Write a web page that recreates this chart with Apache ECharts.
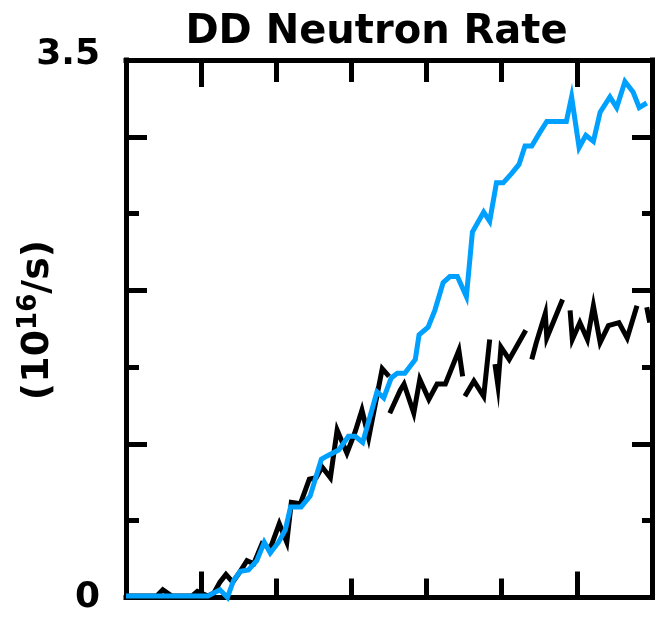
<!DOCTYPE html>
<html>
<head>
<meta charset="utf-8">
<script src="https://cdn.jsdelivr.net/npm/echarts@6/dist/echarts.min.js"></script>
<style>html,body{margin:0;padding:0;background:#fff}#c{width:659px;height:618px}</style>
</head>
<body>
<div id="c"></div>
<script>
// ---- data ----
const titleText = 'DD Neutron Rate';
const yTickLabels = [0, 3.5];

const blueTime = [0, 1.09, 1.25, 1.35, 1.43, 1.52, 1.63, 1.74, 1.84, 1.92, 2.03, 2.12, 2.19, 2.33, 2.45, 2.60, 2.67, 2.83, 2.96, 3.05, 3.15, 3.34, 3.43, 3.53, 3.61, 3.71, 3.85, 3.90, 4.02, 4.11, 4.22, 4.31, 4.41, 4.53, 4.61, 4.76, 4.84, 4.93, 5.02, 5.13, 5.23, 5.31, 5.40, 5.51, 5.60, 5.86, 5.93, 6.03, 6.12, 6.22, 6.31, 6.44, 6.53, 6.64, 6.75, 6.83, 6.93];
const blueRate = [0.01, 0.01, 0.05, 0.00, 0.11, 0.17, 0.18, 0.24, 0.36, 0.29, 0.36, 0.44, 0.59, 0.59, 0.66, 0.90, 0.92, 0.96, 1.05, 1.05, 1.01, 1.34, 1.30, 1.43, 1.46, 1.46, 1.55, 1.71, 1.76, 1.87, 2.05, 2.09, 2.09, 1.96, 2.38, 2.51, 2.45, 2.70, 2.70, 2.76, 2.82, 2.94, 2.94, 3.03, 3.10, 3.10, 3.26, 2.93, 3.01, 2.97, 3.16, 3.26, 3.19, 3.36, 3.29, 3.19, 3.22];

// null = break in the black trace
const blackTime = [0, 0.41, 0.49, 0.61, 0.88, 0.95, 1.09, 1.17, 1.25, 1.33, 1.42, 1.52, 1.61, 1.70, 1.81, 1.92, 2.04, 2.14, 2.20, 2.32, 2.44, 2.53, 2.61, 2.72, 2.81, 2.94, 3.05, 3.14, 3.23, 3.41, 3.50, 3.505, 3.51, 3.65, 3.70, 3.83, 3.91, 4.03, 4.14, 4.25, 4.43, 4.48, 4.50, 4.51, 4.63, 4.76, 4.84, 4.87, 4.91, 4.95, 4.99, 5.10, 5.32, 5.36, 5.40, 5.46, 5.58, 5.60, 5.81, 5.86, 5.91, 5.94, 6.04, 6.14, 6.22, 6.31, 6.42, 6.56, 6.67, 6.80, 6.87, 6.93, 6.97];
const blackRate = [0.01, 0.01, 0.05, 0.01, 0.01, 0.04, 0.01, 0.03, 0.10, 0.15, 0.10, 0.17, 0.24, 0.22, 0.35, 0.32, 0.48, 0.36, 0.62, 0.61, 0.77, 0.78, 0.85, 0.78, 1.09, 0.94, 1.08, 1.22, 1.04, 1.49, 1.44, null, 1.20, 1.35, 1.39, 1.20, 1.42, 1.29, 1.39, 1.39, 1.61, 1.44, null, 1.31, 1.41, 1.31, 1.68, null, 1.52, 1.38, 1.63, 1.55, 1.74, null, 1.55, 1.66, 1.85, 1.69, 1.94, null, 1.87, 1.68, 1.79, 1.68, 1.90, 1.66, 1.77, 1.79, 1.69, 1.90, null, 1.89, 1.79];

// ---- chart ----
const FONT = 'DejaVu Sans';
const pair = (t, v) => t.map((x, i) => [x, v[i] === null ? '-' : v[i]]);
const chart = echarts.init(document.getElementById('c'), null, {renderer: 'canvas'});
const black = '#000';
const full = {left: 126, right: 7, top: 60, bottom: 20.5, containLabel: false};
// the long x ticks sit at 1/7 and 6/7 of the frame width
const narrow = {left: 126 + 526 / 7, right: 7 + 526 / 7, top: 60, bottom: 20.5, containLabel: false};
const hidden = (g, type) => ({gridIndex: g, type: 'value', show: false, min: 0, max: 1});

function xVal(g, pos, len, max, line) {
  return {
    gridIndex: g, type: 'value', position: pos, min: 0, max: max, interval: 1,
    axisLine: {show: line, onZero: false, lineStyle: {color: black, width: 5, cap: 'square'}},
    axisTick: {show: true, inside: true, length: len, lineStyle: {color: black, width: 5}},
    axisLabel: {show: false}, splitLine: {show: false}
  };
}
function yAx(g, pos, step, len, line, labels) {
  return {
    gridIndex: g, type: 'value', position: pos, min: 0, max: 3.5, interval: step,
    axisLine: {show: line, onZero: false, lineStyle: {color: black, width: 5, cap: 'square'}},
    axisTick: {show: true, inside: true, length: len, lineStyle: {color: black, width: 5}},
    axisLabel: labels ? {
      show: true, customValues: yTickLabels, margin: 26,
      formatter: v => v === 0 ? '{z|0}' : '{t|' + v + '}',
      rich: {
        z: {fontFamily: FONT, fontWeight: 'bold', fontSize: 36, color: black},
        t: {fontFamily: FONT, fontWeight: 'bold', fontSize: 36, color: black, padding: [0, 0, 10, 0]}
      }
    } : {show: false},
    splitLine: {show: false}
  };
}

chart.setOption({
  animation: false,
  backgroundColor: '#fff',
  grid: [full, full, narrow, narrow, full, full].map(g => Object.assign({}, g)),
  xAxis: [
    xVal(0, 'bottom', 19, 7, true),
    xVal(1, 'top', 22, 7, true),
    xVal(2, 'bottom', 26, 1, false),
    xVal(3, 'top', 27, 1, false),
    hidden(4), hidden(5)
  ],
  yAxis: [
    yAx(0, 'left', 0.5, 13, true, true),
    yAx(1, 'right', 0.5, 10, true, false),
    hidden(2), hidden(3),
    yAx(4, 'left', 1, 21, false, false),
    yAx(5, 'right', 1, 20, false, false)
  ],
  graphic: [
    {type: 'text', x: 376.5, y: 33, style: {text: titleText, fontFamily: FONT, fontWeight: 'bold', fontSize: 40, fill: black, align: 'center', verticalAlign: 'middle'}},
    {type: 'text', x: 38, y: 320, rotation: Math.PI / 2, style: {
      text: '{a|(10}{b|16}{a|/s)}', align: 'center', verticalAlign: 'middle',
      rich: {
        a: {fontFamily: FONT, fontWeight: 'bold', fontSize: 38, fill: black, lineHeight: 44},
        b: {fontFamily: FONT, fontWeight: 'bold', fontSize: 26, fill: black, lineHeight: 30, verticalAlign: 'top'}
      }
    }}
  ],
  series: [
    {type: 'line', name: 'black', data: pair(blackTime, blackRate), xAxisIndex: 0, yAxisIndex: 0, symbol: 'none', clip: false,
     connectNulls: false, lineStyle: {color: black, width: 5, join: 'miter', miterLimit: 10}, z: 3},
    {type: 'line', name: 'blue', data: pair(blueTime, blueRate), xAxisIndex: 0, yAxisIndex: 0, symbol: 'none', clip: false,
     lineStyle: {color: '#00a0ff', width: 5, join: 'miter', miterLimit: 10}, z: 4}
  ]
});
</script>
</body>
</html>
